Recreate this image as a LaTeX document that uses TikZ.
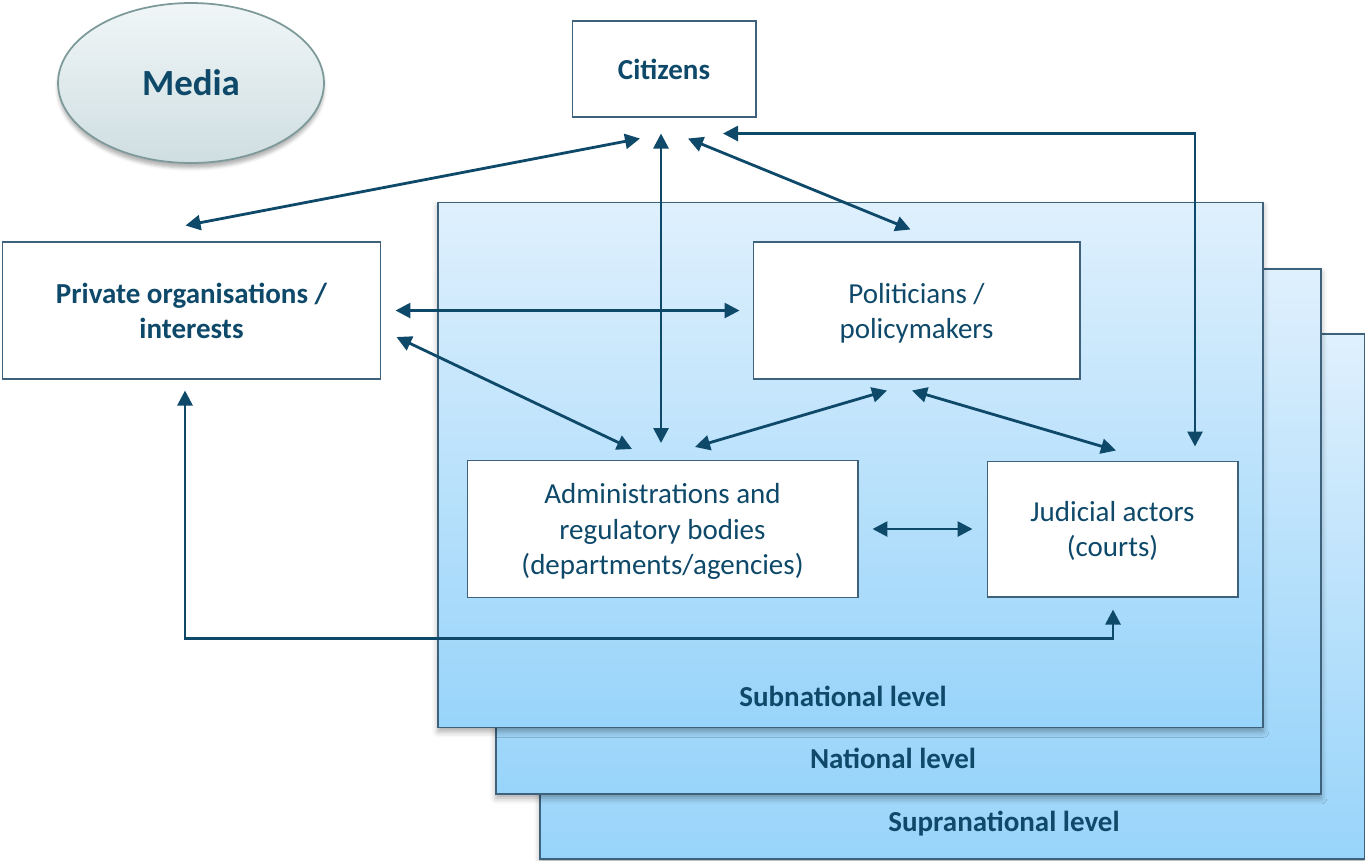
\documentclass[tikz,border=0pt]{standalone}
\usepackage{fontspec}
\setmainfont{Carlito}
\usepackage{xcolor}
\usepackage{tikz}
\usetikzlibrary{arrows.meta,positioning,shapes.geometric,shadows.blur}
\definecolor{inkblue}{RGB}{14,73,106}
\definecolor{edgeblue}{RGB}{62,98,124}
\definecolor{paneltop}{RGB}{223,240,253}
\definecolor{panelbot}{RGB}{152,212,250}
\definecolor{mediatop}{RGB}{240,246,247}
\definecolor{mediabot}{RGB}{207,222,225}
\definecolor{mediaedge}{RGB}{125,153,153}

\begin{document}
\begin{tikzpicture}[x=0.02cm, y=-0.02cm, every node/.style={font=\fontsize{16.5}{20}\selectfont, align=center, text=inkblue}, actor/.style={rectangle, draw=edgeblue, line width=0.6pt, fill=white, inner sep=0pt}, heading/.style={font=\fontsize{16.5}{20}\selectfont\bfseries}, panel/.style={rectangle, draw=edgeblue, line width=0.8pt, top color=paneltop, bottom color=panelbot, minimum width=16.5cm, minimum height=10.5cm, blur shadow={shadow xshift=0pt, shadow yshift=-0.8mm, shadow blur radius=1.2mm, shadow opacity=35}}, link/.style={draw=inkblue, line width=1.6pt, arrows={Triangle[length=3mm,width=3mm]-Triangle[length=3mm,width=3mm]}}]
\useasboundingbox (0,0) rectangle (1365,860);
% levels
\node[panel] (supra) at (952.5,596.5) {};
\node[heading] at ([shift={(51.5,-36)}]supra.south) {Supranational level};
\node[panel] (nat) at (908.5,531.5) {};
\node[heading] at ([shift={(-15.5,-36)}]nat.south) {National level};
\node[panel] (sub) at (850.5,465) {};
\node[heading] at ([shift={(-7.5,-32)}]sub.south) {Subnational level};
% actors
\node[ellipse, draw=mediaedge, line width=1pt, top color=mediatop, bottom color=mediabot, minimum width=5.32cm, minimum height=3.2cm, font=\fontsize{21}{25}\selectfont\bfseries, blur shadow={shadow xshift=0pt, shadow yshift=-1mm, shadow opacity=30}] (media) at (191,83) {Media};
\node[actor, heading, minimum width=3.68cm, minimum height=1.92cm] (cit) at (664,69) {Citizens};
\node[actor, heading, minimum width=7.58cm, minimum height=2.74cm, text depth=-1pt] (priv) at (191.5,310.5) {Private organisations /\\interests};
\node[actor, minimum width=6.54cm, minimum height=2.74cm, text depth=-2pt] (pol) at (916.5,310.5) {Politicians /\\policymakers};
\node[actor, minimum width=7.82cm, minimum height=2.74cm, text depth=-2pt] (adm) at (662.5,529) {Administrations and\\regulatory bodies\\(departments/agencies)};
\node[actor, minimum width=5.02cm, minimum height=2.72cm, text depth=-1pt] (jud) at (1112.5,529) {Judicial actors\\(courts)};
% links
\draw[link] ([shift={(-24,21)}]cit.south) -- ([shift={(-6,-16)}]priv.north);
\draw[link] ([shift={(-3,16)}]cit.south) -- ([shift={(-1.5,-17)}]adm.north);
\draw[link] ([shift={(24,21)}]cit.south) -- ([shift={(-6,-12)}]pol.north);
\draw[link] ([shift={(59,16)}]cit.south) -| ([shift={(82.5,-14)}]jud.north);
\draw[link] ([shift={(14,0)}]priv.east) -- ([shift={(-13,0)}]pol.west);
\draw[link] ([shift={(15,26.5)}]priv.east) -- ([shift={(-30.5,-11)}]adm.north);
\draw[link] ([shift={(-29.5,11)}]pol.south) -- ([shift={(32.5,-13)}]adm.north);
\draw[link] ([shift={(-4.5,11)}]pol.south) -- ([shift={(3.5,-10)}]jud.north);
\draw[link] ([shift={(14,0)}]adm.east) -- ([shift={(-14,0)}]jud.west);
\draw[link] ([shift={(-6.5,11)}]priv.south) -- ++(0,248) -| ([shift={(0.5,12)}]jud.south);
\end{tikzpicture}
\end{document}
